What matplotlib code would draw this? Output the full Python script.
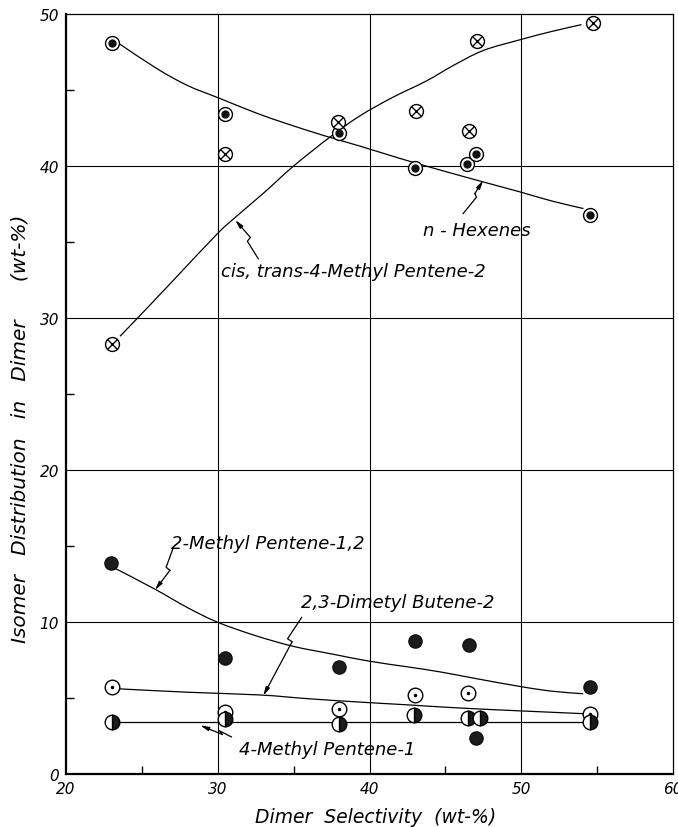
import matplotlib
matplotlib.use("Agg")
import matplotlib.pyplot as plt
from matplotlib.path import Path
from matplotlib.patches import PathPatch

plt.rcParams['font.family'] = ['DejaVu Sans']
plt.rcParams['font.style'] = 'italic'

# ---- data ----
# n-Hexenes (circle with filled centre)
hex_x = [23.0, 30.5, 38.0, 43.0, 46.4, 47.0, 54.5]
hex_y = [48.1, 43.4, 42.2, 39.9, 40.1, 40.8, 36.8]
hex_curve_x = [23.5, 26.0, 28.0, 30.0, 32.5, 34.5, 37.0, 39.4, 42.0, 44.6, 47.5, 49.9, 52.0, 54.1]
hex_curve_y = [48.05, 46.4, 45.3, 44.5, 43.5, 42.8, 42.0, 41.3, 40.5, 39.75, 38.95, 38.3, 37.7, 37.2]

# cis,trans-4-Methyl Pentene-2 (circle with cross)
cis_x = [23.05, 30.5, 37.95, 43.05, 46.55, 47.1, 54.75]
cis_y = [28.3, 40.8, 42.9, 43.6, 42.3, 48.2, 49.4]
cis_curve_x = [23.56, 24.72, 27.0, 29.93, 31.13, 33.0, 35.0, 37.39, 39.37, 41.5, 43.76, 45.5, 47.5, 49.9, 52.0, 53.97]
cis_curve_y = [28.8, 30.0, 32.4, 35.5, 36.6, 38.2, 40.0, 41.9, 43.3, 44.5, 45.6, 46.6, 47.6, 48.3, 48.85, 49.3]

# 2-Methyl Pentene-1,2 (filled circles)
mp2_x = [22.95, 30.5, 38.0, 43.0, 46.55, 47.05, 54.5]
mp2_y = [13.9, 7.65, 7.05, 8.75, 8.5, 2.35, 5.75]
mp2_curve_x = [23.1, 25.86, 28.0, 30.0, 32.5, 34.97, 37.5, 40.0, 42.5, 44.64, 47.0, 49.91, 52.0, 54.08]
mp2_curve_y = [13.6, 12.16, 10.95, 9.98, 9.1, 8.4, 7.9, 7.42, 7.05, 6.72, 6.28, 5.76, 5.45, 5.28]

# 2,3-Dimetyl Butene-2 (open circles with dot)
dmb_x = [23.0, 30.5, 38.0, 43.0, 46.5, 54.5]
dmb_y = [5.75, 4.1, 4.3, 5.2, 5.3, 3.95]
dmb_curve_x = [23.56, 28.0, 32.78, 36.0, 39.37, 42.5, 45.96, 50.0, 54.08]
dmb_curve_y = [5.6, 5.38, 5.2, 4.95, 4.73, 4.55, 4.34, 4.15, 3.97]

# 4-Methyl Pentene-1 (half-filled circles)
mp4_x = [23.0, 30.5, 38.0, 42.95, 46.5, 47.3, 54.5]
mp4_y = [3.45, 3.6, 3.3, 3.85, 3.7, 3.7, 3.4]
mp4_curve_x = [23.3, 54.3]
mp4_curve_y = [3.42, 3.42]

x_ticks = [20, 30, 40, 50, 60]
x_tick_labels = ['20', '30', '40', '50', '60']
y_ticks = [0, 10, 20, 30, 40, 50]
y_tick_labels = ['0', '10', '20', '30', '40', '50']

# ---- figure ----
W, H = 678, 828
fig = plt.figure(figsize=(W / 100, H / 100), dpi=100)
ax = fig.add_axes([66 / W, 1 - 775 / H, (673 - 66) / W, (775 - 15) / H])
ax.set_xlim(20, 60)
ax.set_ylim(0, 50)

# grid
for gx in [30, 40, 50]:
    ax.axvline(gx, color='black', lw=0.8, zorder=1)
for gy in [10, 20, 30, 40]:
    ax.axhline(gy, color='black', lw=0.8, zorder=1)

ax.set_xticks(x_ticks)
ax.set_xticklabels(x_tick_labels)
ax.set_yticks(y_ticks)
ax.set_yticklabels(y_tick_labels)
ax.set_xticks([25, 35, 45, 55], minor=True)
ax.set_yticks([5, 15, 25, 35, 45], minor=True)
ax.tick_params(which='major', length=0, labelsize=11, pad=5)
ax.tick_params(which='minor', direction='in', length=6, width=1.0)
for lab in ax.get_xticklabels() + ax.get_yticklabels():
    lab.set_fontstyle('italic')

for s in ['left', 'bottom']:
    ax.spines[s].set_linewidth(1.6)
for s in ['top', 'right']:
    ax.spines[s].set_linewidth(0.9)


def smooth_curve(xs, ys):
    """Draw a smooth curve through the read points (Catmull-Rom as cubic Beziers)."""
    pts = list(zip(xs, ys))
    if len(pts) < 3:
        ax.plot(xs, ys, color='black', lw=0.9, zorder=2)
        return
    verts = [pts[0]]
    codes = [Path.MOVETO]
    n = len(pts)
    for i in range(n - 1):
        p0 = pts[i - 1] if i > 0 else pts[i]
        p1 = pts[i]
        p2 = pts[i + 1]
        p3 = pts[i + 2] if i + 2 < n else pts[i + 1]
        c1 = (p1[0] + (p2[0] - p0[0]) / 6.0, p1[1] + (p2[1] - p0[1]) / 6.0)
        c2 = (p2[0] - (p3[0] - p1[0]) / 6.0, p2[1] - (p3[1] - p1[1]) / 6.0)
        verts += [c1, c2, p2]
        codes += [Path.CURVE4] * 3
    ax.add_patch(PathPatch(Path(verts, codes), fill=False, edgecolor='black', lw=0.9, zorder=2))


smooth_curve(hex_curve_x, hex_curve_y)
smooth_curve(cis_curve_x, cis_curve_y)
smooth_curve(mp2_curve_x, mp2_curve_y)
smooth_curve(dmb_curve_x, dmb_curve_y)
smooth_curve(mp4_curve_x, mp4_curve_y)

# markers
ax.plot(hex_x, hex_y, ls='none', marker='o', ms=10, mfc='white', mec='black', mew=1.0, zorder=3)
ax.plot(hex_x, hex_y, ls='none', marker='o', ms=5, mfc='#111111', mec='#111111', zorder=4)

ax.plot(cis_x, cis_y, ls='none', marker='o', ms=10, mfc='white', mec='black', mew=1.0, zorder=3)
ax.plot(cis_x, cis_y, ls='none', marker='x', ms=7, mec='black', mew=1.0, zorder=4)

ax.plot(mp2_x, mp2_y, ls='none', marker='o', ms=9.5, mfc='#1c1c1c', mec='#111111', mew=1.0, zorder=3)

ax.plot(dmb_x, dmb_y, ls='none', marker='o', ms=10.5, mfc='white', mec='black', mew=1.0, zorder=3)
ax.plot(dmb_x, dmb_y, ls='none', marker='o', ms=1.5, mfc='black', mec='black', zorder=4)

ax.plot(mp4_x, mp4_y, ls='none', marker='o', ms=10.5, fillstyle='right',
        mfc='#1c1c1c', markerfacecoloralt='white', mec='black', mew=1.0, zorder=5)

# labels with lightning-bolt leaders
tkw = dict(fontsize=13, fontstyle='italic', va='center', ha='left', zorder=6)
ax.text(43.5, 35.8, 'n - Hexenes', **tkw)
ax.text(30.2, 33.1, 'cis, trans-4-Methyl Pentene-2', **tkw)
ax.text(26.9, 15.2, '2-Methyl Pentene-1,2', **tkw)
ax.text(35.5, 11.3, '2,3-Dimetyl Butene-2', **tkw)
ax.text(31.4, 1.65, '4-Methyl Pentene-1', **tkw)


def bolt(p0, p1, p2, p3):
    xs = [p0[0], p1[0], p2[0]]
    ys = [p0[1], p1[1], p2[1]]
    ax.plot(xs, ys, color='black', lw=0.9, zorder=6)
    ax.annotate('', xy=p3, xytext=p2,
                arrowprops=dict(arrowstyle='-|>,head_length=0.5,head_width=0.12',
                                color='black', lw=0.9, shrinkA=0, shrinkB=0), zorder=6)


bolt((46.17, 36.87), (47.05, 37.95), (46.94, 38.18), (47.49, 39.05))
bolt((32.67, 33.9), (31.95, 35.05), (32.15, 35.3), (31.15, 36.45))
bolt((27.07, 14.9), (26.6, 13.6), (26.85, 13.4), (25.86, 12.1))
bolt((35.53, 10.3), (34.6, 8.9), (34.9, 8.7), (33.0, 5.15))
bolt((30.9, 2.44), (30.1, 2.85), (30.3, 2.6), (28.85, 3.2))

ax.set_xlabel('Dimer  Selectivity  (wt-%)', fontsize=13.5, fontstyle='italic')
ax.xaxis.label.set_va('center')
ax.xaxis.set_label_coords(0.51, -0.056)
ax.set_ylabel('Isomer   Distribution   in   Dimer      (wt-%)', fontsize=14.5, fontstyle='italic')
ax.yaxis.label.set_va('center')
ax.yaxis.set_label_coords(-0.076, 0.455)

fig.savefig('out.png', dpi=100)
